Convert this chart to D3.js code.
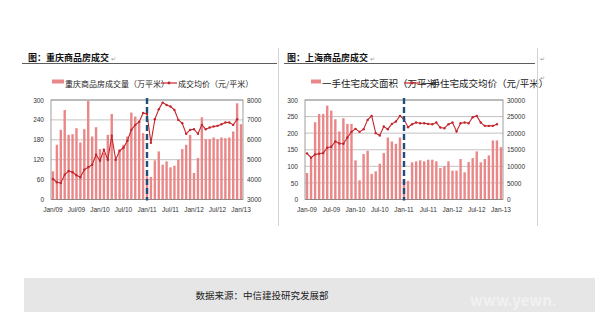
<!DOCTYPE html>
<html>
<head>
<meta charset="utf-8">
<script src="https://cdn.jsdelivr.net/npm/d3@7"></script>
<style>
  body { margin: 0; background: #fff; }
  text { font-family: "Noto Sans CJK SC", "Noto Sans", sans-serif; }
  .tick text { font-family: "Liberation Sans", Arial, sans-serif; font-size: 6.5px; fill: #333; }
</style>
</head>
<body>
<svg id="chart" width="595" height="312"></svg>
<script>
// months Jan09 .. Jan13
const months = d3.range(49).map(i => i)

// Chongqing
const cqVolume = [85,165,210,270,195,197,215,172,212,297, 190,218,152,140,195,258,120,150,165,190,
  262,250,238,200,70,68,118,145,105,115, 97,102,120,152,165,195,80,125,248,182,
  182,187,182,187,185,187,205,290,227]
const cqPrice = [4030,3870,3830,4250,4430,4370,4220,4120,4500,4620, 4750,5250,4950,5500,5000,6200,5000,5450,5600,5950,
  6500,6750,6900,7350,7300,5850,7030,7530,7870,7750, 7670,7500,7000,6830,6300,6500,6530,6300,6750,6530,
  6620,6670,6700,6780,6870,6870,6750,7030,null]
const cqLeftTicks = [0,60,120,180,240,300]
const cqRightTicks = [3000,4000,5000,6000,7000,8000]
const cqXLabels = ['Jan/09','Jul/09','Jan/10','Jul/10','Jan/11','Jul/11','Jan/12','Jul/12','Jan/13']

// Shanghai
const shVolume = [80,125,233,258,258,283,268,242,205,245, 228,228,118,58,137,147,77,85,108,140,
  187,175,168,187,60,56,112,115,118,115, 120,120,115,95,100,115,87,87,122,82,
  113,125,145,112,122,133,178,178,158]
const shPrice = [13900,12600,13600,13800,14000,15600,15900,17500,16900,16800, 18700,20400,21300,20400,21200,24000,25200,20000,19300,22000,
  21200,22800,23500,25200,24200,21800,22700,23200,23000,23000, 22800,22700,23200,21700,21500,22700,23200,20500,23000,23200,
  23000,24800,25200,23200,22200,22200,22200,22700,null]
const shLeftTicks = [0,50,100,150,200,250,300]
const shRightTicks = [0,5000,10000,15000,20000,25000,30000]
const shXLabels = ['Jan-09','Jul-09','Jan-10','Jul-10','Jan-11','Jul-11','Jan-12','Jul-12','Jan-13']

const svg = d3.select('#chart')

/**
 * Draws one combo chart (bars on left axis, line on right axis)
 */
function drawPanel (opt) {
  const g = svg.append('g')

  const x = d3.scaleBand().domain(months).range([opt.left, opt.right])
  const yL = d3.scaleLinear().domain([0, 300]).range([opt.bottom, opt.top])
  const yR = d3.scaleLinear().domain(opt.rightDomain).range([opt.bottom, opt.top])

  // gridlines
  g.selectAll('.grid')
    .data(opt.leftTicks)
    .enter()
    .append('line')
    .attr('x1', opt.left).attr('x2', opt.right)
    .attr('y1', d => yL(d)).attr('y2', d => yL(d))
    .attr('stroke', '#9a9a9a')
    .attr('stroke-width', 0.6)

  // bars
  g.selectAll('.bar')
    .data(opt.volume)
    .enter()
    .append('rect')
    .attr('x', (d, i) => x(i) + x.bandwidth() / 2 - 1.2)
    .attr('width', 2.4)
    .attr('y', d => yL(d))
    .attr('height', d => opt.bottom - yL(d))
    .attr('fill', '#ea8788')

  // frame
  g.append('rect')
    .attr('x', opt.left).attr('y', opt.top)
    .attr('width', opt.right - opt.left).attr('height', opt.bottom - opt.top)
    .attr('fill', 'none').attr('stroke', '#777').attr('stroke-width', 0.7)

  // price line
  const line = d3.line()
    .defined(d => d != null)
    .x((d, i) => x(i) + x.bandwidth() / 2)
    .y(d => yR(d))
  g.append('path')
    .datum(opt.price)
    .attr('d', line)
    .attr('fill', 'none')
    .attr('stroke', '#c4262c')
    .attr('stroke-width', 1.1)
  g.selectAll('.dot')
    .data(opt.price.map((d, i) => [i, d]).filter(d => d[1] != null))
    .enter()
    .append('circle')
    .attr('cx', d => x(d[0]) + x.bandwidth() / 2)
    .attr('cy', d => yR(d[1]))
    .attr('r', 1.2)
    .attr('fill', '#c4262c')

  // dashed marker at Jan 2011
  const xm = x(24) + x.bandwidth() / 2
  g.append('line')
    .attr('x1', xm).attr('x2', xm)
    .attr('y1', opt.top - 2).attr('y2', opt.bottom + 1)
    .attr('stroke', '#1f4e79')
    .attr('stroke-width', 2.4)
    .attr('stroke-dasharray', '6,3')

  // axes
  g.append('g')
    .attr('transform', 'translate(' + opt.left + ',0)')
    .call(d3.axisLeft(yL).tickValues(opt.leftTicks).tickFormat(d3.format('d')).tickSize(0).tickPadding(7))
    .call(a => a.select('.domain').remove())
  g.append('g')
    .attr('transform', 'translate(' + opt.right + ',0)')
    .call(d3.axisRight(yR).tickValues(opt.rightTicks).tickFormat(d3.format('d')).tickSize(0).tickPadding(4))
    .call(a => a.select('.domain').remove())
  g.append('g')
    .attr('transform', 'translate(0,' + opt.bottom + ')')
    .call(d3.axisBottom(x)
      .tickValues(d3.range(0, 49, 6))
      .tickFormat((d, i) => opt.xLabels[i])
      .tickSize(0).tickPadding(8))
    .call(a => a.select('.domain').remove())

  // legend (the two entries overlap in the original too)
  g.append('rect')
    .attr('x', opt.leg.sx).attr('y', 79.5)
    .attr('width', opt.leg.sw).attr('height', 4)
    .attr('fill', '#ea8788')
  g.append('text')
    .attr('x', opt.leg.sx + opt.leg.sw + 1).attr('y', 86.5)
    .style('font-size', opt.leg.fs + 'px')
    .attr('fill', '#222')
    .text(opt.leg.t1)
  g.append('line')
    .attr('x1', opt.leg.mx).attr('x2', opt.leg.mx + 16)
    .attr('y1', 83).attr('y2', 83)
    .attr('stroke', '#c4262c').attr('stroke-width', 1.2)
  g.append('circle')
    .attr('cx', opt.leg.mx + 8).attr('cy', 83).attr('r', 1.4)
    .attr('fill', '#c4262c')
  g.append('text')
    .attr('x', opt.leg.mx + 17).attr('y', 86.5)
    .style('font-size', opt.leg.fs + 'px')
    .attr('fill', '#222')
    .text(opt.leg.t2)

  // panel title
  g.append('text')
    .attr('x', opt.titleX).attr('y', 61)
    .style('font-size', '9px')
    .style('font-weight', 'bold')
    .attr('fill', '#111')
    .text(opt.title)
  g.append('text')
    .attr('x', opt.titleX + 83).attr('y', 61)
    .style('font-size', '6px')
    .attr('fill', '#999')
    .text('↵')
}

drawPanel({
  left: 51, right: 243, top: 100, bottom: 199.5,
  volume: cqVolume, price: cqPrice,
  rightDomain: [3000, 8000],
  leftTicks: cqLeftTicks, rightTicks: cqRightTicks, xLabels: cqXLabels,
  title: '图：重庆商品房成交', titleX: 28,
  leg: { sx: 52, sw: 12, fs: 8, mx: 161, t1: '重庆商品房成交量（万平米）', t2: '成交均价（元/平米）' }
})

drawPanel({
  left: 305, right: 503, top: 100, bottom: 199.5,
  volume: shVolume, price: shPrice,
  rightDomain: [0, 30000],
  leftTicks: shLeftTicks, rightTicks: shRightTicks, xLabels: shXLabels,
  title: '图：上海商品房成交', titleX: 287,
  leg: { sx: 311, sw: 10, fs: 9.5, mx: 404, t1: '一手住宅成交面积（万平米）', t2: '一手住宅成交均价（元/平米）' }
})

// title underlines and page separators
svg.append('line').attr('x1', 22).attr('x2', 277).attr('y1', 63.5).attr('y2', 63.5)
  .attr('stroke', '#333').attr('stroke-width', 0.8)
svg.append('line').attr('x1', 284).attr('x2', 535).attr('y1', 63.5).attr('y2', 63.5)
  .attr('stroke', '#333').attr('stroke-width', 0.8)
svg.append('line').attr('x1', 278.5).attr('x2', 278.5).attr('y1', 48).attr('y2', 226)
  .attr('stroke', '#c8c8c8').attr('stroke-width', 0.8)
svg.append('line').attr('x1', 537.5).attr('x2', 537.5).attr('y1', 48).attr('y2', 226)
  .attr('stroke', '#c8c8c8').attr('stroke-width', 0.8)
svg.append('text').attr('x', 540).attr('y', 61).style('font-size', '6px').attr('fill', '#999').text('↵')
svg.append('text').attr('x', 540).attr('y', 80).style('font-size', '6px').attr('fill', '#999').text('↵')

// source box at the bottom
svg.append('rect')
  .attr('x', 24).attr('y', 278)
  .attr('width', 571).attr('height', 34)
  .attr('fill', '#e6e6e6')
svg.append('text')
  .attr('x', 470).attr('y', 306)
  .style('font-size', '15px')
  .style('font-weight', 'bold')
  .attr('fill', '#f1f1f1')
  .text('www.yewn.')
svg.append('text')
  .attr('x', 262).attr('y', 299)
  .attr('text-anchor', 'middle')
  .style('font-size', '9.5px')
  .attr('fill', '#222')
  .text('数据来源：中信建投研究发展部')
</script>
</body>
</html>
